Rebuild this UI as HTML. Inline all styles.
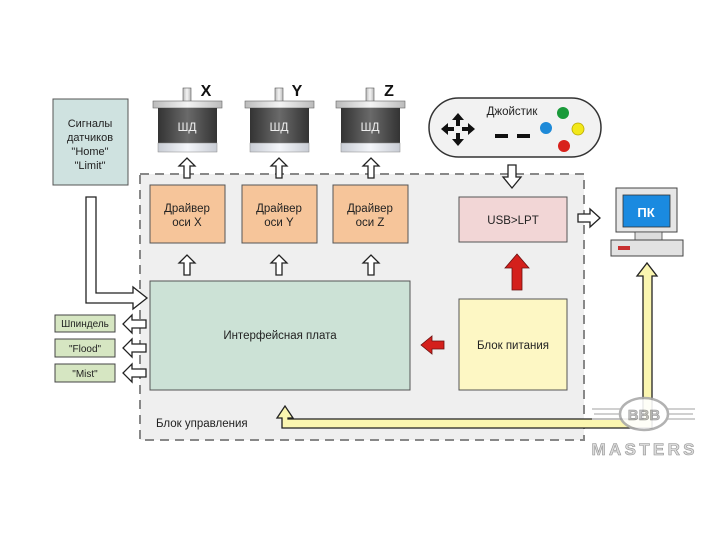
<!DOCTYPE html>
<html><head><meta charset="utf-8"><style>
html,body{margin:0;padding:0;background:#fff;}
svg{display:block;font-family:"Liberation Sans",sans-serif;}
</style></head><body>
<svg width="720" height="540" viewBox="0 0 720 540" xmlns="http://www.w3.org/2000/svg">
<defs>
<linearGradient id="cap" x1="0" y1="0" x2="1" y2="0"><stop offset="0" stop-color="#bbb"/><stop offset="0.5" stop-color="#f4f4f4"/><stop offset="1" stop-color="#bbb"/></linearGradient>
<linearGradient id="body" x1="0" y1="0" x2="1" y2="0"><stop offset="0" stop-color="#333"/><stop offset="0.5" stop-color="#6a6a6a"/><stop offset="1" stop-color="#333"/></linearGradient>
<linearGradient id="bot" x1="0" y1="0" x2="1" y2="0"><stop offset="0" stop-color="#c8ccd4"/><stop offset="0.5" stop-color="#f4f6fa"/><stop offset="1" stop-color="#c8ccd4"/></linearGradient>
<g id="upw"><path d="M-3,0 L-3,-12 L-8,-12 L0,-20 L8,-12 L3,-12 L3,0 Z" fill="#fff" stroke="#222" stroke-width="1.3"/></g>
<g id="leftw"><path d="M0,-4 L-14,-4 L-14,-9 L-23,0 L-14,9 L-14,4 L0,4 Z" fill="#fff" stroke="#222" stroke-width="1.3"/></g>
<g id="motor">
<rect x="-2" y="-13" width="8" height="14" fill="url(#cap)" stroke="#555" stroke-width="0.6"/>
<rect x="-32" y="0" width="69" height="7" fill="url(#cap)" stroke="#666" stroke-width="0.6"/>
<rect x="-27" y="7" width="59" height="36" fill="url(#body)"/>
<rect x="-27" y="42" width="59" height="9" fill="url(#bot)" stroke="#888" stroke-width="0.5"/>
<text x="2" y="30" font-size="12" fill="#eee" text-anchor="middle">ШД</text>
</g>
</defs>

<rect x="140" y="174" width="444" height="266" fill="#efefef" stroke="#888" stroke-width="2" stroke-dasharray="9,6"/>
<text x="156" y="427" font-size="11.5" fill="#222">Блок управления</text>

<rect x="53" y="99" width="75" height="86" fill="#cfe2e0" stroke="#555" stroke-width="1"/>
<text font-size="11" fill="#222" text-anchor="middle"><tspan x="90" y="127">Сигналы</tspan><tspan x="90" y="141">датчиков</tspan><tspan x="90" y="155">"Home"</tspan><tspan x="90" y="169">"Limit"</tspan></text>
<path d="M86,197 L96,197 L96,293 L133,293 L133,287 L147,298 L133,309 L133,303 L86,303 Z" fill="#fff" stroke="#222" stroke-width="1.3"/>

<use href="#motor" x="185" y="101"/>
<use href="#motor" x="277" y="101"/>
<use href="#motor" x="368" y="101"/>
<text x="206" y="96" font-size="16" font-weight="bold" fill="#111" text-anchor="middle">X</text>
<text x="297" y="96" font-size="16" font-weight="bold" fill="#111" text-anchor="middle">Y</text>
<text x="389" y="96" font-size="16" font-weight="bold" fill="#111" text-anchor="middle">Z</text>

<use href="#upw" x="187" y="178"/>
<use href="#upw" x="279" y="178"/>
<use href="#upw" x="371" y="178"/>
<g fill="#f6c59a" stroke="#555" stroke-width="1">
<rect x="150" y="185" width="75" height="58"/>
<rect x="242" y="185" width="75" height="58"/>
<rect x="333" y="185" width="75" height="58"/>
</g>
<g font-size="11.5" fill="#222" text-anchor="middle">
<text x="187" y="212">Драйвер</text><text x="187" y="226">оси X</text>
<text x="279" y="212">Драйвер</text><text x="279" y="226">оси Y</text>
<text x="370" y="212">Драйвер</text><text x="370" y="226">оси Z</text>
</g>
<use href="#upw" x="187" y="275"/>
<use href="#upw" x="279" y="275"/>
<use href="#upw" x="371" y="275"/>

<rect x="150" y="281" width="260" height="109" fill="#cce2d6" stroke="#555" stroke-width="1"/>
<text x="280" y="339" font-size="11.5" fill="#222" text-anchor="middle">Интерфейсная плата</text>

<g fill="#d6e6c2" stroke="#444" stroke-width="1">
<rect x="55" y="315" width="60" height="17"/>
<rect x="55" y="339" width="60" height="18"/>
<rect x="55" y="364" width="60" height="18"/>
</g>
<g font-size="10" fill="#222" text-anchor="middle">
<text x="85" y="327">Шпиндель</text>
<text x="85" y="352">"Flood"</text>
<text x="85" y="377">"Mist"</text>
</g>
<use href="#leftw" x="146" y="324"/>
<use href="#leftw" x="146" y="348"/>
<use href="#leftw" x="146" y="373"/>

<rect x="459" y="299" width="108" height="91" fill="#fdf7c4" stroke="#555" stroke-width="1"/>
<text x="513" y="349" font-size="11.5" fill="#222" text-anchor="middle">Блок питания</text>
<path d="M444,341 L432,341 L432,336 L421,345 L432,354 L432,349 L444,349 Z" fill="#d4201c" stroke="#6a1010" stroke-width="0.8"/>
<path d="M512,290 L512,268 L505,268 L517,254 L529,268 L522,268 L522,290 Z" fill="#d4201c" stroke="#6a1010" stroke-width="0.8"/>

<rect x="459" y="197" width="108" height="45" fill="#f2d6d6" stroke="#555" stroke-width="1"/>
<text x="513" y="224" font-size="11.5" fill="#222" text-anchor="middle">USB&gt;LPT</text>
<path d="M508,165 L516,165 L516,177 L521,177 L512,188 L503,177 L508,177 Z" fill="#fff" stroke="#222" stroke-width="1.3"/>
<path d="M578,214 L590,214 L590,209 L600,218 L590,227 L590,222 L578,222 Z" fill="#fff" stroke="#222" stroke-width="1.3"/>

<rect x="429" y="98" width="172" height="59" rx="29.5" fill="#f2f2f2" stroke="#333" stroke-width="1.5"/>
<text x="512" y="115" font-size="11.5" fill="#222" text-anchor="middle">Джойстик</text>
<g fill="#111">
<path d="M458,113 L464,120 L460,120 L460,126 L456,126 L456,120 L452,120 Z"/>
<path d="M458,146 L464,139 L460,139 L460,133 L456,133 L456,139 L452,139 Z"/>
<path d="M441,129 L448,123 L448,127 L454,127 L454,131 L448,131 L448,135 Z"/>
<path d="M475,129 L468,123 L468,127 L462,127 L462,131 L468,131 L468,135 Z"/>
<rect x="495" y="134" width="13" height="4"/><rect x="517" y="134" width="13" height="4"/>
</g>
<circle cx="563" cy="113" r="6" fill="#1a9a3a"/>
<circle cx="546" cy="128" r="6" fill="#1e8ad8"/>
<circle cx="578" cy="129" r="6" fill="#f2e81a" stroke="#b8a800" stroke-width="0.8"/>
<circle cx="564" cy="146" r="6" fill="#d8221c"/>

<rect x="616" y="188" width="61" height="44" fill="#e6e6e6" stroke="#444" stroke-width="1"/>
<rect x="623" y="195" width="47" height="32" fill="#1a8ae0" stroke="#333" stroke-width="0.8"/>
<text x="646" y="217" font-size="13" font-weight="bold" fill="#fff" text-anchor="middle">ПК</text>
<rect x="635" y="232" width="27" height="8" fill="#ddd" stroke="#444" stroke-width="0.8"/>
<rect x="611" y="240" width="72" height="16" fill="#e2e2e2" stroke="#444" stroke-width="1"/>
<rect x="618" y="246" width="12" height="4" fill="#c83030"/>

<path d="M643,419 L643,276 L637,276 L647,263 L657,276 L652,276 L652,428 L282,428 L282,418 L277,418 L285,406 L293,418 L288,418 L288,419 Z" fill="#fbf6b0" stroke="#222" stroke-width="1.3"/>

<g opacity="0.9">
<rect x="592" y="408" width="103" height="2" fill="#ccc"/>
<rect x="594" y="413" width="99" height="2" fill="#ccc"/>
<rect x="592" y="418" width="103" height="2" fill="#ccc"/>
<ellipse cx="644" cy="414" rx="24" ry="16" fill="#fff" stroke="#aaa" stroke-width="2.5"/>
<text x="644" y="420" font-size="15" font-weight="bold" fill="#bbb" stroke="#888" stroke-width="0.5" text-anchor="middle">BBB</text>
<text x="643" y="455" font-size="17" font-weight="bold" fill="#d8d8d8" stroke="#888" stroke-width="0.6" text-anchor="middle" textLength="103">MASTERS</text>
</g>
</svg>
</body></html>
